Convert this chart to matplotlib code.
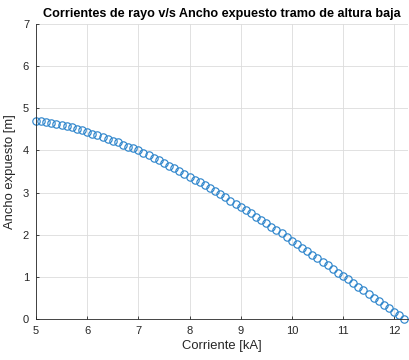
import numpy as np
import matplotlib.pyplot as plt

plt.rcParams['font.family'] = ['Liberation Sans', 'DejaVu Sans']

# Corriente de rayo [kA], paso de 0.1 kA
corriente = np.round(np.arange(5.0, 12.21, 0.1), 1)

# Ancho expuesto [m] para cada corriente
ancho = [
    4.71, 4.69, 4.68, 4.66, 4.63, 4.61, 4.58, 4.55, 4.51, 4.48,  # 5.0 - 5.9
    4.44, 4.40, 4.36, 4.32, 4.28, 4.23, 4.19, 4.14, 4.09, 4.05,  # 6.0 - 6.9
    4.00, 3.94, 3.89, 3.83, 3.77, 3.71, 3.64, 3.58, 3.51, 3.45,  # 7.0 - 7.9
    3.38, 3.31, 3.24, 3.17, 3.10, 3.03, 2.96, 2.89, 2.81, 2.74,  # 8.0 - 8.9
    2.66, 2.58, 2.51, 2.43, 2.35, 2.27, 2.19, 2.11, 2.03, 1.94,  # 9.0 - 9.9
    1.86, 1.78, 1.69, 1.61, 1.52, 1.44, 1.36, 1.27, 1.19, 1.10,  # 10.0 - 10.9
    1.02, 0.94, 0.85, 0.77, 0.68, 0.60, 0.51, 0.43, 0.34, 0.26,  # 11.0 - 11.9
    0.17, 0.09, 0.00,                                            # 12.0 - 12.2
]

x_ticks = [5, 6, 7, 8, 9, 10, 11, 12]
y_ticks = [0, 1, 2, 3, 4, 5, 6, 7]

gris = '#262626'

fig = plt.figure(figsize=(4.09, 3.60), dpi=100)
ax = fig.add_axes([36 / 409, 41 / 360, 372 / 409, 295 / 360])

ax.plot(corriente, ancho, linestyle='none', marker='o', markersize=5.3,
        markerfacecolor='none', markeredgecolor='#2f86cc', markeredgewidth=0.85,
        clip_on=False)

ax.set_xlim(5, 12.27)
ax.set_ylim(0, 7)
ax.set_xticks(x_ticks)
ax.set_yticks(y_ticks)
ax.grid(True, color='#dcdcdc', linewidth=0.6)
ax.set_axisbelow(True)

for lado in ['top', 'right']:
    ax.spines[lado].set_visible(False)
for lado in ['left', 'bottom']:
    ax.spines[lado].set_color(gris)
    ax.spines[lado].set_linewidth(0.6)

ax.tick_params(direction='in', length=2.5, width=0.6, colors=gris,
               labelsize=8, pad=5)

ax.set_title('Corrientes de rayo v/s Ancho expuesto tramo de altura baja',
             fontsize=9.1, fontweight='bold', pad=5)
ax.set_xlabel('Corriente [kA]', fontsize=9.4, color=gris, labelpad=3)
ax.set_ylabel('Ancho expuesto [m]', fontsize=9.4, color=gris, labelpad=5)

fig.savefig('out.png', dpi=100)
